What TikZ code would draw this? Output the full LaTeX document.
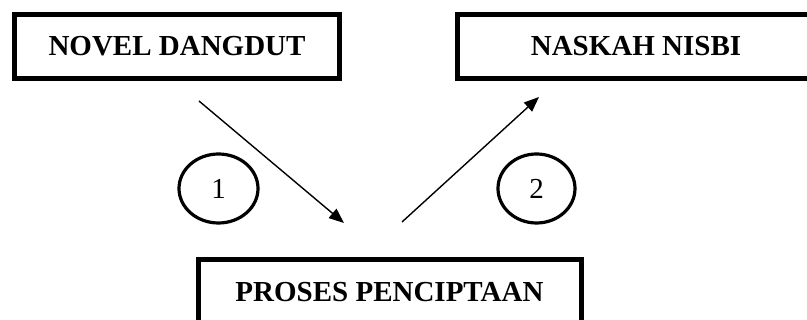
\documentclass[tikz,border=0pt]{standalone}
\usepackage{fontspec}
\setmainfont{Liberation Serif}
\usetikzlibrary{arrows.meta,shapes.geometric}
\begin{document}
\begin{tikzpicture}[x=1pt,y=-1pt,
  stagebox/.style={draw=black,line width=5pt,inner sep=0pt,
    minimum height=64pt,font=\fontsize{29}{34}\selectfont\bfseries},
  stepmark/.style={draw=black,ellipse,line width=3.2pt,inner sep=0pt,
    minimum width=79pt,minimum height=69pt,font=\fontsize{29}{34}\selectfont},
  flow/.style={line width=1.4pt,-{Triangle[length=15pt,width=12pt]}}]
\useasboundingbox (0,0) rectangle (807,320);
% source and result boxes
\node[stagebox,minimum width=325pt] (novel) at (177,46.5) {NOVEL DANGDUT};
\node[stagebox,minimum width=358pt] (naskah) at (636,46.5) {NASKAH NISBI};
% creation process box
\node[stagebox,minimum width=383pt] (proses) at (389.5,292) {PROSES PENCIPTAAN};
% step numbers
\node[stepmark] (one) at (218.5,188.5) {1};
\node[stepmark,minimum width=77pt] (two) at (536.5,188.5) {2};
% arrow end points
\coordinate (a1s) at (199,101);
\coordinate (a1e) at (344,223);
\coordinate (a2s) at (402,222);
\coordinate (a2e) at (539,97);
\draw[flow] (a1s) -- (a1e);
\draw[flow] (a2s) -- (a2e);
\end{tikzpicture}
\end{document}
